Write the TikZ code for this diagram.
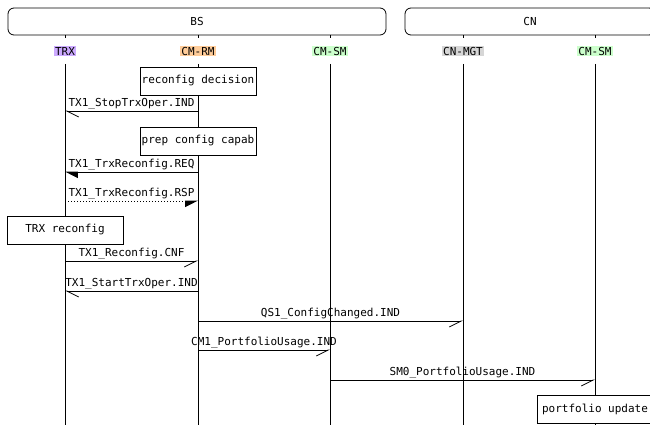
\documentclass[tikz,border=0pt]{standalone}
\usepackage{fontspec}
\setmonofont{DejaVu Sans Mono}
\usetikzlibrary{arrows.meta, positioning}
\definecolor{trxbg}{RGB}{204,170,255}
\definecolor{rmbg}{RGB}{255,204,153}
\definecolor{smbg}{RGB}{204,255,204}
\definecolor{mgtbg}{RGB}{214,214,214}

\begin{document}
\begin{tikzpicture}[x=1pt, y=-1pt,
  every node/.style={font=\ttfamily\fontsize{11}{13}\selectfont},
  grp/.style={draw, rounded corners=6pt, line width=0.8pt,
              minimum height=27pt, inner sep=0pt},
  hd/.style={inner sep=1.2pt},
  life/.style={line width=0.8pt},
  act/.style={draw, fill=white, line width=0.8pt, minimum width=116pt,
              minimum height=28pt, inner sep=1pt},
  lbl/.style={midway, above, inner sep=1.2pt},
  mr/.style={line width=0.8pt,
             -{Straight Barb[harpoon, swap, length=12pt, width=12pt]}},
  ml/.style={line width=0.8pt,
             -{Straight Barb[harpoon, length=12pt, width=12pt]}},
  fr/.style={line width=0.8pt,
             -{Triangle[harpoon, swap, length=12pt, width=12pt]}},
  fl/.style={line width=0.8pt,
             -{Triangle[harpoon, length=12pt, width=12pt]}}
]
\useasboundingbox (0,0) rectangle (650,425);
\clip (0,0) rectangle (650,425);

% Groups
\node[grp, minimum width=378pt] (bs) at (197,21.5) {BS};
\node[grp, minimum width=250pt] (cn) at (530,21.5) {CN};

% Entities
\node[hd, fill=trxbg] (trx) at (65,51)  {TRX};
\node[hd, fill=rmbg]  (rm)  at (198,51) {CM-RM};
\node[hd, fill=smbg]  (sm)  at (330,51) {CM-SM};
\node[hd, fill=mgtbg] (mgt) at (463,51) {CN-MGT};
\node[hd, fill=smbg]  (sm2) at (595,51) {CM-SM};

% Lifelines
\foreach \e in {trx, rm, sm, mgt, sm2} {
  \draw[life] (\e |- 0,35) -- (\e |- 0,38);
  \draw[life] (\e |- 0,64) -- (\e |- 0,425);
}

% Messages
\draw[ml] (rm |- 0,111) -- node[lbl]{TX1\_StopTrxOper.IND} (trx |- 0,111);
\draw[fl] (rm |- 0,172) -- node[lbl]{TX1\_TrxReconfig.REQ} (trx |- 0,172);
\draw[fr, dash pattern=on 1pt off 2pt] (trx |- 0,201)
  -- node[lbl]{TX1\_TrxReconfig.RSP} (rm |- 0,201);
\draw[mr] (trx |- 0,261) -- node[lbl]{TX1\_Reconfig.CNF} (rm |- 0,261);
\draw[ml] (rm |- 0,291) -- node[lbl]{TX1\_StartTrxOper.IND} (trx |- 0,291);
\draw[mr] (rm |- 0,321) -- node[lbl]{QS1\_ConfigChanged.IND} (mgt |- 0,321);
\draw[mr] (rm |- 0,350) -- node[lbl]{CM1\_PortfolioUsage.IND} (sm |- 0,350);
\draw[mr] (sm |- 0,380) -- node[lbl]{SM0\_PortfolioUsage.IND} (sm2 |- 0,380);

% Actions
\node[act] (dec)  at (rm |- 0,81)   {reconfig decision};
\node[act] (prep) at (rm |- 0,141)  {prep config capab};
\node[act] (rcf)  at (trx |- 0,230) {TRX reconfig};
\node[act] (upd)  at (sm2 |- 0,409) {portfolio update};
\end{tikzpicture}
\end{document}
